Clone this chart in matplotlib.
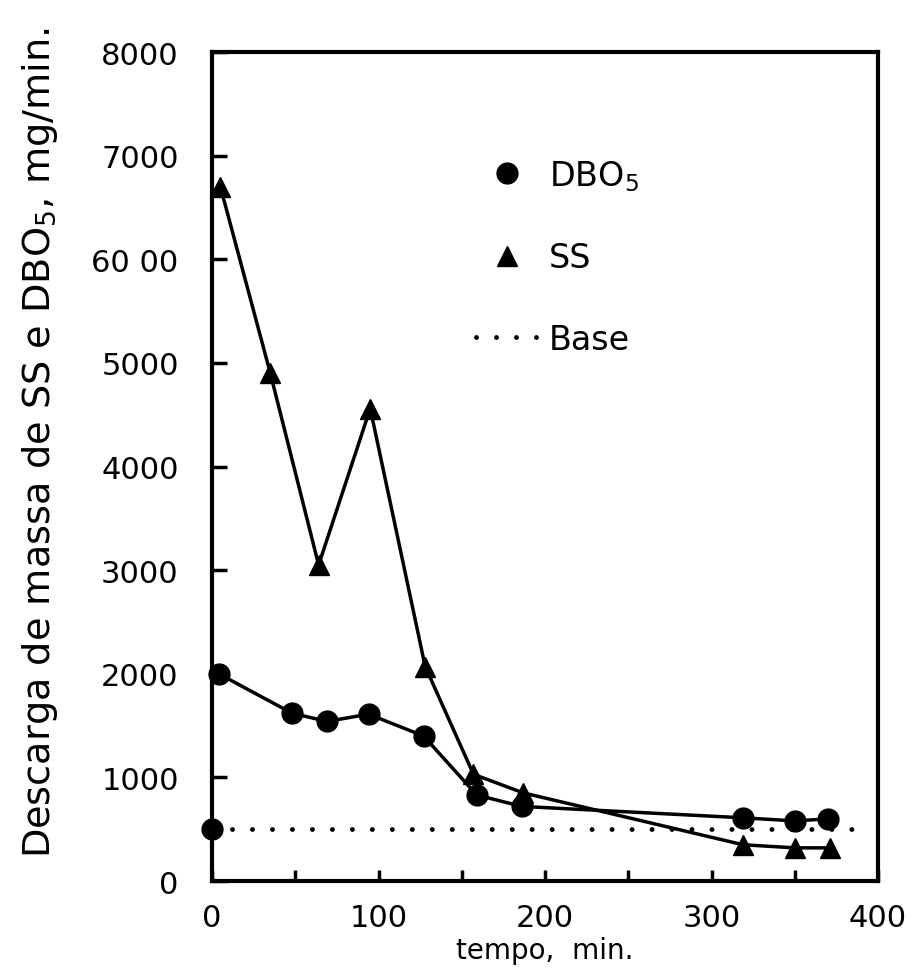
import matplotlib
matplotlib.use("Agg")
import matplotlib.pyplot as plt
from matplotlib.lines import Line2D

# Data
dbo_t = [4, 48, 69, 94, 127, 159, 186, 319, 350, 370]
dbo_v = [2000, 1620, 1540, 1610, 1400, 830, 720, 610, 580, 600]
ss_t = [5, 35, 64, 95, 128, 157, 187, 319, 350, 371]
ss_v = [6700, 4900, 3050, 4560, 2070, 1030, 850, 350, 320, 320]
base_t = [0, 395]
base_v = [500, 500]
base_point_t = [0]
base_point_v = [500]

x_major = [0, 100, 200, 300, 400]
x_minor = [50, 150, 250, 350]
y_ticks = [0, 1000, 2000, 3000, 4000, 5000, 6000, 7000, 8000]
y_ticklabels = ["0", "1000", "2000", "3000", "4000", "5000", "60 00", "7000", "8000"]

fig = plt.figure(figsize=(9.18, 9.70), dpi=100)
ax = fig.add_axes([0.231, 0.0907, 0.7255, 0.8546])

ax.plot(ss_t, ss_v, color="black", lw=2.5, marker="^", ms=14, zorder=3,
        label="SS", clip_on=False)
ax.plot(dbo_t, dbo_v, color="black", lw=2.5, marker="o", ms=15, zorder=4,
        label="DBO$_5$", clip_on=False)
ax.plot(base_t, base_v, color="black", lw=3.5, linestyle=(0, (0.01, 4.1)),
        dash_capstyle="round", zorder=2)
ax.plot(base_point_t, base_point_v, color="black", marker="o", ms=15,
        linestyle="none", clip_on=False, zorder=5)

ax.set_xlim(0, 400)
ax.set_ylim(0, 8000)

for s in ax.spines.values():
    s.set_linewidth(3)

ax.set_xticks(x_major)
ax.set_xticks(x_minor, minor=True)
ax.set_xticklabels([str(v) for v in x_major])
ax.set_yticks(y_ticks)
ax.set_yticklabels(y_ticklabels)

ax.tick_params(axis="x", which="both", direction="in", length=8, width=2.5,
               top=False, labelsize=22, pad=16)
ax.tick_params(axis="y", which="both", direction="in", length=11, width=2.5,
               right=False, labelsize=22, pad=24)

ax.set_ylabel("Descarga de massa de SS e DBO$_5$, mg/min.", fontsize=27.5)
ax.yaxis.set_label_coords(-0.228, 0.53)
ax.set_xlabel("tempo,  min.", fontsize=20)
ax.xaxis.set_label_coords(0.5, -0.066)

handles = [
    Line2D([], [], color="black", marker="o", ms=15, linestyle="none"),
    Line2D([], [], color="black", marker="^", ms=15, linestyle="none"),
    Line2D([], [], color="black", lw=3.5, linestyle=(0, (0.01, 4.1)),
           dash_capstyle="round"),
]
ax.legend(handles, ["DBO$_5$", "SS", "Base"], loc="upper left",
          bbox_to_anchor=(0.396, 0.872), frameon=False, fontsize=24,
          handlelength=1.9, handletextpad=0.3, labelspacing=1.45,
          borderaxespad=0, borderpad=0, numpoints=1)

fig.savefig("out.png", dpi=100)
